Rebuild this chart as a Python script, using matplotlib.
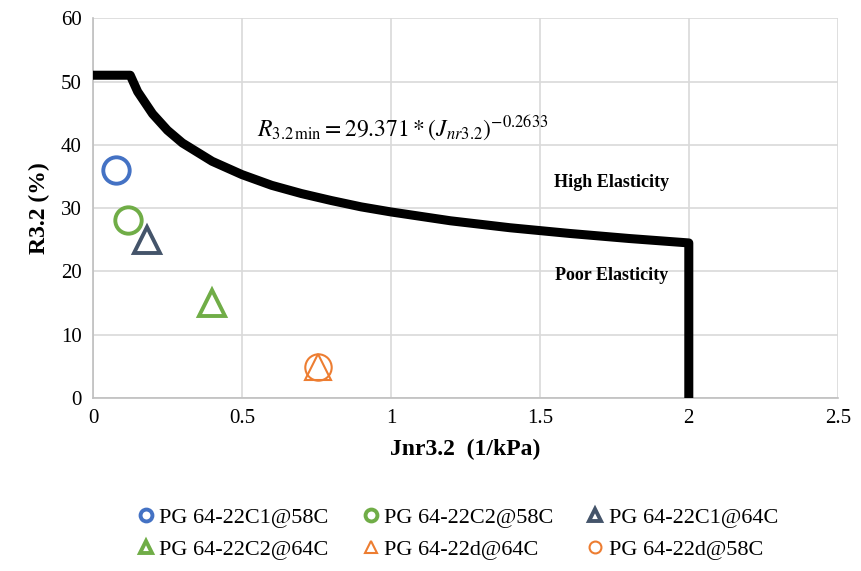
import matplotlib
matplotlib.use("Agg")
import matplotlib.pyplot as plt

plt.rcParams['font.family'] = ['Liberation Serif', 'DejaVu Serif']
plt.rcParams['mathtext.fontset'] = 'stix'

# limit curve (Jnr3.2, R3.2)
curve_x = [0, 0.125, 0.15, 0.2, 0.25, 0.3, 0.4, 0.5, 0.6, 0.7, 0.8, 0.9,
           1.0, 1.2, 1.4, 1.6, 1.8, 2.0, 2.0]
curve_y = [51, 51, 48.4, 44.9, 42.3, 40.3, 37.4, 35.3, 33.6, 32.3, 31.2, 30.2,
           29.4, 28.0, 26.9, 26.0, 25.2, 24.5, 0]

# binder points
labels = ["PG 64-22C1@58C", "PG 64-22C2@58C", "PG 64-22C1@64C",
          "PG 64-22C2@64C", "PG 64-22d@64C", "PG 64-22d@58C"]
jnr = [0.077, 0.117, 0.18, 0.40, 0.755, 0.755]
r32 = [36.0, 28.1, 25.0, 15.0, 4.9, 4.9]
markers = ["o", "o", "^", "^", "^", "o"]
colors = ["#4472C4", "#70AD47", "#44546A", "#70AD47", "#ED7D31", "#ED7D31"]
edge_w = [2.8, 2.8, 2.8, 2.8, 1.5, 1.5]

fig = plt.figure(figsize=(8.61, 5.71), dpi=100)
ax = fig.add_axes([0.108, 0.303, 0.865, 0.665])

ax.plot(curve_x, curve_y, color="black", lw=6.5, solid_capstyle="round",
        solid_joinstyle="round", zorder=3)

handles = []
for x, y, m, c, w, lab in zip(jnr, r32, markers, colors, edge_w, labels):
    h, = ax.plot([x], [y], linestyle="none", marker=m, ms=19, mfc="none",
                 mec=c, mew=w, label=lab, zorder=4)
    handles.append(h)

ax.text(0.55, 42.8,
        r"$R_{3.2\,\mathrm{min}} = 29.371 * \left(J_{nr3.2}\right)^{-0.2633}$",
        fontsize=17, va="center", ha="left")
ax.text(1.74, 34, "High Elasticity", fontsize=13, fontweight="bold",
        ha="center", va="center")
ax.text(1.74, 19.4, "Poor Elasticity", fontsize=13, fontweight="bold",
        ha="center", va="center")

ax.set_xlim(0, 2.5)
ax.set_ylim(0, 60)
ax.set_xticks([0, 0.5, 1, 1.5, 2, 2.5])
ax.set_xticklabels(["0", "0.5", "1", "1.5", "2", "2.5"])
ax.set_yticks(range(0, 61, 10))
ax.tick_params(labelsize=15, length=0, pad=8)
ax.grid(True, color="#d9d9d9", lw=1.2)
ax.set_axisbelow(True)
for s in ["top", "right"]:
    ax.spines[s].set_visible(False)
for s in ["left", "bottom"]:
    ax.spines[s].set_color("#bfbfbf")
    ax.spines[s].set_linewidth(1.2)

ax.set_xlabel("Jnr3.2  (1/kPa)", fontsize=17, fontweight="bold", labelpad=8)
ax.set_ylabel("R3.2 (%)", fontsize=17, fontweight="bold", labelpad=8)

order = [0, 3, 1, 4, 2, 5]
leg = fig.legend([handles[i] for i in order], [labels[i] for i in order],
                 ncol=3, loc="lower center", bbox_to_anchor=(0.53, -0.015),
                 frameon=False, fontsize=16, markerscale=0.45,
                 handletextpad=0.1, columnspacing=1.4, handlelength=1.0,
                 labelspacing=0.5)

fig.savefig("out.png", dpi=100)
